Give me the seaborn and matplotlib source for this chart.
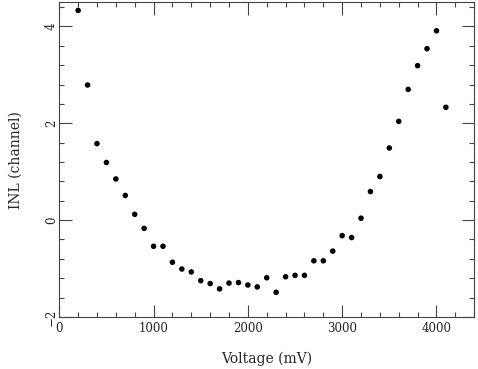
import matplotlib
matplotlib.use("Agg")
import matplotlib.pyplot as plt
from matplotlib.ticker import MultipleLocator
import seaborn as sns
import pandas as pd

voltage = [200, 300, 400, 500, 600, 700, 800, 900, 1000, 1100,
           1200, 1300, 1400, 1500, 1600, 1700, 1800, 1900, 2000, 2100,
           2200, 2300, 2400, 2500, 2600, 2700, 2800, 2900, 3000, 3100,
           3200, 3300, 3400, 3500, 3600, 3700, 3800, 3900, 4000, 4100]
inl = [4.33, 2.79, 1.58, 1.19, 0.85, 0.51, 0.12, -0.17, -0.54, -0.54,
       -0.87, -1.01, -1.07, -1.25, -1.31, -1.42, -1.30, -1.29, -1.34, -1.38,
       -1.19, -1.49, -1.17, -1.14, -1.14, -0.84, -0.84, -0.64, -0.32, -0.36,
       0.04, 0.59, 0.90, 1.49, 2.04, 2.70, 3.19, 3.54, 3.91, 2.33]

df = pd.DataFrame({"Voltage": voltage, "INL": inl})

sns.set_style("ticks")
plt.rcParams['font.family'] = ['DejaVu Serif']

fig = plt.figure(figsize=(4.78, 3.69), dpi=100)
ax = fig.add_axes([0.124, 0.141, 0.868, 0.853])

sns.scatterplot(data=df, x="Voltage", y="INL", color="black", s=16,
                edgecolor="none", ax=ax)

ax.set_xlim(0, 4400)
ax.set_ylim(-2, 4.5)
ax.xaxis.set_major_locator(MultipleLocator(1000))
ax.xaxis.set_minor_locator(MultipleLocator(200))
ax.yaxis.set_major_locator(MultipleLocator(2))
ax.yaxis.set_minor_locator(MultipleLocator(0.4))
ax.tick_params(which="both", direction="in", top=True, right=True,
               color="#444444", width=0.8, labelsize=8.5)
ax.tick_params(which="major", length=9)
ax.tick_params(which="minor", length=3.3)
ax.tick_params(axis="y", pad=1)
for lbl in ax.get_yticklabels():
    lbl.set_rotation(90)
    lbl.set_va("center")
for sp in ax.spines.values():
    sp.set_color("#444444")
    sp.set_linewidth(0.8)

ax.set_xlabel("Voltage (mV)", fontsize=10, labelpad=12)
ax.set_ylabel("INL (channel)", fontsize=10, labelpad=16)

fig.savefig("out.png", dpi=100)
